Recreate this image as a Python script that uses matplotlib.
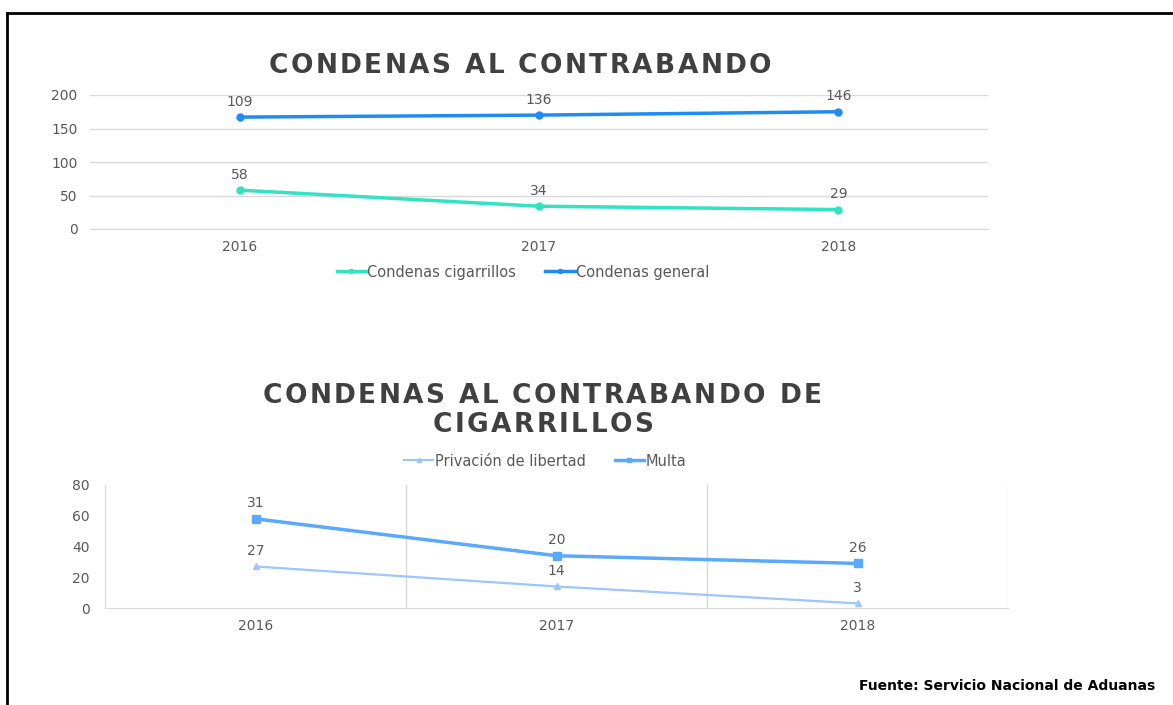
import numpy as np
import matplotlib
matplotlib.use("Agg")
import matplotlib.pyplot as plt
from matplotlib.lines import Line2D

plt.rcParams['font.family'] = ['DejaVu Sans']

# ---- data ----
years = ['2016', '2017', '2018']
condenas_cigarrillos = [58, 34, 29]
condenas_general = [109, 136, 146]
privacion_libertad = [27, 14, 3]
multa = [31, 20, 26]

title_top = "CONDENAS AL CONTRABANDO"
title_bottom = ["CONDENAS AL CONTRABANDO DE", "CIGARRILLOS"]
source = "Fuente: Servicio Nacional de Aduanas"

W, H = 1173, 705
fig = plt.figure(figsize=(W / 100, H / 100), dpi=100)
fig.patch.set_facecolor('white')

TXT = '#595959'
GRID = '#d9d9d9'
C_CIG = '#2fe3c3'
C_GEN = '#1f8bf5'
C_PRIV = '#9dc6ff'
C_MULTA = '#5aa9ff'
FS = 10


def fx(px):
    return px / W


def fy(py):
    return 1 - py / H


renderer = fig.canvas.get_renderer()


def spaced_text(xc, yc, text, size, spacing_px, **kw):
    """Draw letter-spaced text centered at pixel (xc, yc)."""
    def width(s):
        t = fig.text(0, 0, s, fontsize=size, **kw)
        w = t.get_window_extent(renderer).width
        t.remove()
        return w
    bar = width('||')
    advs = [width('|' + c + '|') - bar for c in text]
    total = sum(advs) + spacing_px * (len(text) - 1)
    x = xc - total / 2
    for c, a in zip(text, advs):
        if c != ' ':
            fig.text(fx(x), fy(yc), c, fontsize=size, ha='left', va='center', **kw)
        x += a + spacing_px


# ---- top chart ----
ax1 = fig.add_axes([fx(90), fy(229), fx(988) - fx(90), fy(95) - fy(229)])
x = np.arange(len(years))
cig = np.array(condenas_cigarrillos)
gen_stacked = cig + np.array(condenas_general)
ax1.plot(x, cig, color=C_CIG, lw=2.5, marker='o', ms=5, label='Condenas cigarrillos', zorder=3)
ax1.plot(x, gen_stacked, color=C_GEN, lw=2.5, marker='o', ms=5, label='Condenas general', zorder=3)
for xi, yv, lab in zip(x, cig, condenas_cigarrillos):
    ax1.annotate(str(lab), (xi, yv), xytext=(0, 6), textcoords='offset points',
                 ha='center', va='bottom', fontsize=FS, color=TXT)
for xi, yv, lab in zip(x, gen_stacked, condenas_general):
    ax1.annotate(str(lab), (xi, yv), xytext=(0, 6), textcoords='offset points',
                 ha='center', va='bottom', fontsize=FS, color=TXT)
ax1.set_xlim(-0.5, 2.5)
ax1.set_ylim(0, 200)
ax1.set_yticks([0, 50, 100, 150, 200])
ax1.set_xticks(x)
ax1.set_xticklabels(years)
ax1.grid(axis='y', color=GRID, lw=1)
ax1.set_axisbelow(True)
for name, s in ax1.spines.items():
    if name == 'bottom':
        s.set_color(GRID)
    else:
        s.set_visible(False)
ax1.tick_params(length=0, colors=TXT, labelsize=FS)
ax1.tick_params(axis='y', pad=9)
ax1.tick_params(axis='x', pad=8)
fig.legend(handles=ax1.get_lines(), loc='center', bbox_to_anchor=(fx(523), fy(272)),
           ncol=2, frameon=False, fontsize=10.5, labelcolor=TXT, handlelength=2.0,
           handletextpad=0.1, columnspacing=2.0, markerscale=0.6)

spaced_text(520, 66, title_top, 19, 2.4, color='#404040', fontweight='bold')

# ---- bottom chart ----
ax2 = fig.add_axes([fx(105), fy(608), fx(1008) - fx(105), fy(485) - fy(608)])
priv = np.array(privacion_libertad)
multa_stacked = priv + np.array(multa)
l1, = ax2.plot(x, priv, color=C_PRIV, lw=1.6, marker='^', ms=5, label='Privación de libertad', zorder=3)
l2, = ax2.plot(x, multa_stacked, color=C_MULTA, lw=2.5, marker='s', ms=6, label='Multa', zorder=3)
for xi, yv, lab in zip(x, priv, privacion_libertad):
    ax2.annotate(str(lab), (xi, yv), xytext=(0, 6), textcoords='offset points',
                 ha='center', va='bottom', fontsize=FS, color=TXT)
for xi, yv, lab in zip(x, multa_stacked, multa):
    ax2.annotate(str(lab), (xi, yv), xytext=(0, 6), textcoords='offset points',
                 ha='center', va='bottom', fontsize=FS, color=TXT)
ax2.set_xlim(-0.5, 2.5)
ax2.set_ylim(0, 80)
ax2.set_yticks([0, 20, 40, 60, 80])
ax2.set_xticks(x)
ax2.set_xticklabels(years)
ax2.set_xticks([-0.5, 0.5, 1.5, 2.5], minor=True)
ax2.grid(axis='x', which='minor', color=GRID, lw=1)
ax2.set_axisbelow(True)
for name, s in ax2.spines.items():
    if name == 'bottom':
        s.set_color(GRID)
    else:
        s.set_visible(False)
ax2.tick_params(which='both', length=0, colors=TXT, labelsize=FS)
ax2.tick_params(axis='y', pad=11)
ax2.tick_params(axis='x', pad=8)
fig.legend(handles=[l1, l2], loc='center', bbox_to_anchor=(fx(545), fy(461)),
           ncol=2, frameon=False, fontsize=10.5, labelcolor=TXT, handlelength=2.0,
           handletextpad=0.1, columnspacing=2.0, markerscale=0.6)

spaced_text(542, 396, title_bottom[0], 19, 2.4, color='#404040', fontweight='bold')
spaced_text(543, 425, title_bottom[1], 19, 2.4, color='#404040', fontweight='bold')

fig.text(fx(1155), fy(686), source, ha='right', va='center', fontsize=10,
         fontweight='bold', color='black')

# frame lines
fig.add_artist(Line2D([fx(7), 1], [fy(13), fy(13)], color='black', lw=2))
fig.add_artist(Line2D([fx(7), fx(7)], [fy(13), 0], color='black', lw=2))

fig.savefig('out.png', dpi=100)
